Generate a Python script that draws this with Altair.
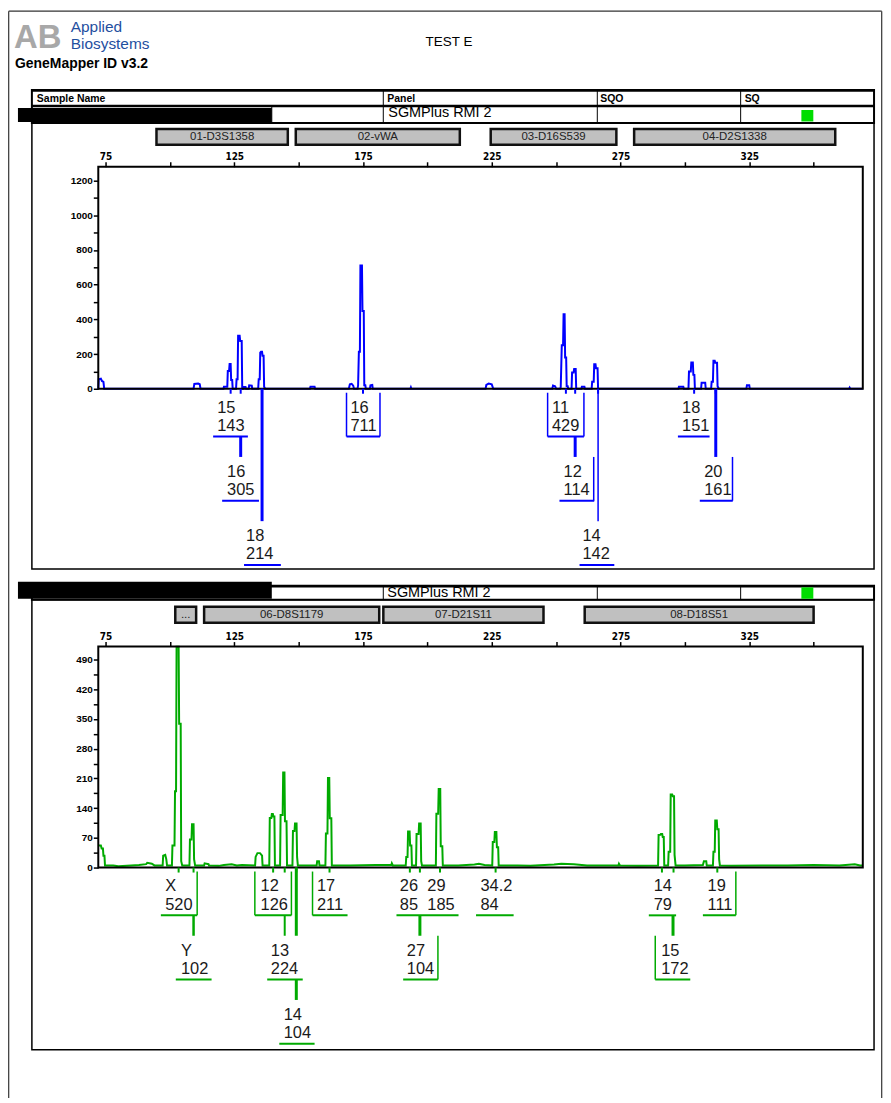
import altair as alt
import pandas as pd

# ---------------- values ----------------
TITLE = "TEST E"
SOFTWARE = "GeneMapper ID v3.2"
COMPANY = "Applied\nBiosystems"
PANEL_NAME = "SGMPlus RMI 2"
TABLE_HEAD = ["Sample Name", "Panel", "SQO", "SQ"]

X_TICKS = [75, 100, 125, 150, 175, 200, 225, 250, 275, 300, 325, 350]
TOP_Y_TICKS = [0, 100, 200, 300, 400, 500, 600, 700, 800, 900, 1000, 1100, 1200]
BOT_Y_TICKS = [0, 35, 70, 105, 140, 175, 210, 245, 280, 315, 350, 385, 420, 455, 490]

# blue dye trace (size in bp, height in RFU)
TOP_TRACE = [
    (72.2, 0), (72.4, 55), (73.2, 58), (73.6, 45), (74.2, 40), (74.5, 0),
    (109.2, 0), (109.5, 28), (111.0, 30), (111.6, 26), (111.9, 0),
    (120.8, 0), (121.0, 12), (122.3, 12), (122.5, 103), (123.0, 103), (123.2, 143),
    (123.6, 143), (123.8, 50), (124.2, 50), (124.4, 0),
    (125.7, 0), (125.9, 55), (126.3, 55), (126.5, 305), (127.1, 305), (127.3, 276),
    (127.9, 276), (128.1, 0), (128.6, 0), (128.8, 10), (129.4, 10), (129.6, 0),
    (130.6, 0), (130.8, 20), (131.8, 18), (132.0, 0),
    (134.3, 0), (134.5, 55), (134.9, 55), (135.1, 208), (135.4, 214), (135.8, 214),
    (136.0, 190), (136.4, 190), (136.6, 12), (137.0, 0),
    (154.4, 0), (154.6, 12), (156.2, 12), (156.4, 0),
    (169.5, 0), (169.9, 25), (170.6, 28), (171.2, 18), (171.5, 0),
    (172.9, 0), (173.1, 20), (173.4, 214), (173.8, 214), (174.0, 711), (174.6, 711),
    (174.8, 448), (175.3, 448), (175.5, 20), (175.9, 20), (176.1, 0),
    (177.7, 0), (177.9, 20), (178.6, 22), (178.8, 0),
    (193.4, 0), (193.6, 8), (193.8, 0),
    (222.6, 0), (222.9, 22), (223.8, 30), (225.0, 25), (225.6, 0),
    (248.5, 0), (248.8, 18), (249.6, 14), (250.0, 0),
    (251.6, 0), (251.8, 10), (252.2, 251), (252.7, 251), (252.9, 429), (253.3, 429),
    (253.5, 180), (253.9, 180), (254.1, 15), (254.5, 15), (254.7, 0),
    (256.0, 0), (256.2, 94), (256.8, 94), (257.0, 114), (257.6, 114), (257.8, 0),
    (259.8, 0), (260.0, 12), (261.0, 12), (261.2, 0),
    (263.8, 0), (264.0, 40), (264.6, 40), (264.8, 142), (265.3, 142), (265.5, 118),
    (266.1, 118), (266.3, 0),
    (297.5, 0), (297.7, 12), (299.4, 12), (299.6, 0),
    (301.4, 0), (301.6, 100), (302.3, 100), (302.5, 151), (303.1, 151), (303.3, 80),
    (303.7, 80), (303.9, 0),
    (306.3, 0), (306.5, 35), (307.9, 35), (308.1, 0),
    (310.2, 0), (310.4, 40), (310.9, 40), (311.1, 161), (311.6, 161), (311.8, 150),
    (312.5, 150), (312.7, 15), (313.2, 0),
    (323.9, 0), (324.1, 20), (325.0, 20), (325.2, 0),
    (363.8, 0), (364.0, 6), (364.2, 0), (369.1, 0),
]

# green dye trace
BOT_TRACE = [
    (72.2, 52), (73.2, 52), (73.5, 45), (74.0, 45), (74.2, 28), (74.6, 28), (74.8, 5),
    (78.0, 5), (80.0, 3), (85.0, 5), (88.0, 6), (90.8, 8), (91.2, 11), (93.0, 9), (94.0, 5),
    (97.2, 5), (97.4, 28), (98.2, 30), (98.6, 20), (98.9, 5),
    (100.8, 5), (101.0, 52), (101.8, 52), (102.0, 180), (102.4, 180), (102.6, 520),
    (103.4, 520), (103.6, 339), (104.2, 339), (104.4, 15), (104.8, 5),
    (107.6, 5), (107.8, 66), (108.4, 66), (108.6, 102), (109.2, 102), (109.4, 20), (109.8, 5),
    (113.3, 5), (113.5, 10), (115.0, 8), (115.2, 5), (119.0, 4), (121.0, 6), (124.0, 8),
    (126.0, 5), (128.0, 6),
    (133.1, 5), (133.3, 25), (134.0, 34), (135.0, 34), (135.8, 28), (136.0, 5),
    (138.6, 5), (138.8, 117), (139.4, 117), (139.6, 126), (140.0, 126), (140.2, 120),
    (140.6, 120), (140.8, 5),
    (142.8, 5), (143.0, 124), (143.8, 124), (144.0, 224), (144.5, 224), (144.7, 109),
    (145.3, 109), (145.5, 5),
    (147.6, 5), (147.8, 86), (148.4, 86), (148.6, 104), (149.2, 104), (149.4, 25), (149.7, 5),
    (152.0, 5), (157.0, 5), (157.2, 15), (157.9, 15), (158.1, 5),
    (160.4, 5), (160.6, 80), (161.2, 80), (161.4, 211), (161.9, 211), (162.1, 116),
    (162.7, 116), (162.9, 5),
    (170.0, 5), (180.0, 6), (186.0, 6), (186.2, 10), (186.6, 5),
    (191.6, 5), (191.8, 25), (192.3, 25), (192.5, 85), (193.1, 85), (193.3, 52),
    (193.8, 52), (194.0, 5),
    (195.6, 5), (195.8, 79), (196.6, 79), (196.8, 104), (197.4, 104), (197.6, 15), (197.9, 5),
    (203.3, 5), (203.5, 127), (204.2, 127), (204.4, 185), (205.0, 185), (205.2, 50),
    (205.8, 50), (206.0, 5),
    (212.0, 5), (218.3, 7), (220.0, 9), (222.2, 6),
    (225.2, 5), (225.4, 60), (226.0, 60), (226.2, 84), (226.8, 84), (227.0, 48),
    (227.5, 48), (227.7, 5),
    (235.0, 5), (240.0, 4), (249.2, 7), (252.0, 9), (256.9, 8), (262.0, 5),
    (274.2, 5), (274.4, 9), (274.8, 5), (282.0, 4),
    (289.6, 5), (289.8, 77), (290.5, 77), (290.7, 79), (291.2, 79), (291.4, 72),
    (291.8, 72), (292.0, 5),
    (293.5, 5), (293.7, 37), (294.3, 37), (294.5, 172), (295.1, 172), (295.3, 168),
    (295.8, 168), (296.0, 30), (296.4, 5),
    (300.0, 5), (307.0, 6), (307.4, 15), (308.3, 15), (308.5, 5),
    (310.9, 5), (311.1, 37), (311.6, 37), (311.8, 111), (312.4, 111), (312.6, 90),
    (313.1, 90), (313.3, 20), (313.6, 5),
    (318.0, 4), (330.0, 5), (340.0, 5), (350.0, 6), (360.0, 5), (366.0, 8), (368.0, 5),
    (369.1, 5),
]

TOP_ALLELES = ["15", "16", "18", "16", "11", "12", "14", "18", "20"]
TOP_HEIGHTS = ["143", "305", "214", "711", "429", "114", "142", "151", "161"]
TOP_PEAK_BP = [123.6, 127.5, 135.8, 175.0, 253.8, 257.4, 266.3, 303.6, 312.0]

BOT_ALLELES = ["X", "Y", "12", "13", "14", "17", "26", "29", "27", "34.2", "14", "15", "19"]
BOT_HEIGHTS = ["520", "102", "126", "224", "104", "211", "85", "185", "104", "84", "79", "172", "111"]
BOT_PEAK_BP = [103.4, 109.2, 140.1, 144.6, 149.1, 162.0, 193.2, 204.9, 197.1, 226.5, 291.1, 295.6, 312.6]

TOP_MARKERS = ["01-D3S1358", "02-vWA", "03-D16S539", "04-D2S1338"]
TOP_MARKER_START = [94.8, 148.9, 224.6, 280.3]
TOP_MARKER_END = [145.8, 212.6, 273.4, 358.4]
BOT_MARKERS = ["...", "06-D8S1179", "07-D21S11", "08-D18S51"]
BOT_MARKER_START = [102.1, 113.3, 182.9, 261.1]
BOT_MARKER_END = [110.2, 181.3, 245.1, 350.0]

# ---------------- layout (label placement, page geometry) ----------------
TOP_LABEL_ROW = [0, 1, 2, 0, 0, 1, 2, 0, 1]
TOP_LABEL_LEFT = [118.4, 122.2, 129.6, 170.1, 248.4, 252.9, 260.2, 298.9, 307.5]
TOP_UNDERLINES = [(0, 116.8, 130.3), (1, 120.3, 134.6), (2, 128.8, 143.1), (0, 168.6, 181.6),
                  (0, 246.7, 260.8), (1, 251.3, 264.8), (2, 259.1, 272.6), (0, 297.3, 309.6),
                  (1, 305.8, 318.6)]
TOP_LINKS = [
    (127.5, ("ul", 0), ("top", 1), 3), (135.8, ("axis", 0), ("top", 2), 3),
    (168.6, ("top", 0), ("ul", 0), 1.5), (181.6, ("top", 0), ("ul", 0), 1.5),
    (246.7, ("top", 0), ("ul", 0), 1.5), (260.8, ("top", 0), ("ul", 0), 1.5),
    (257.4, ("ul", 0), ("top", 1), 3), (264.6, ("top", 1), ("ul", 1), 1.5),
    (266.3, ("axis", 0), ("top", 2), 1.5), (312.0, ("axis", 0), ("top", 1), 3),
    (318.5, ("top", 1), ("ul", 1), 1.5),
]
BOT_LABEL_ROW = [0, 1, 0, 1, 2, 0, 0, 0, 1, 0, 0, 1, 0]
BOT_LABEL_LEFT = [98.2, 104.3, 135.2, 139.2, 144.2, 157.1, 189.3, 200.0, 192.0, 220.6, 287.9, 290.8, 308.8]
BOT_UNDERLINES = [(0, 96.5, 110.6), (1, 102.3, 116.2), (0, 133.0, 147.2), (1, 137.8, 151.6),
                  (2, 142.5, 156.2), (0, 155.4, 169.0), (0, 188.0, 212.1), (1, 190.6, 204.1),
                  (0, 218.9, 233.5), (0, 286.0, 296.6), (1, 288.5, 302.1), (0, 307.0, 319.8)]
BOT_LINKS = [
    (110.6, ("top", 0), ("ul", 0), 1.5), (109.2, ("ul", 0), ("top", 1), 2.5),
    (133.0, ("top", 0), ("ul", 0), 1.5), (147.2, ("top", 0), ("ul", 0), 1.5),
    (144.6, ("ul", 0), ("top", 1), 2), (149.1, ("axis", 0), ("top", 1), 3),
    (149.1, ("ul", 1), ("top", 2), 3), (155.4, ("top", 0), ("ul", 0), 1.5),
    (197.1, ("ul", 0), ("top", 1), 3), (204.1, ("top", 1), ("ul", 1), 1.5),
    (295.4, ("ul", 0), ("top", 1), 3), (288.5, ("top", 1), ("ul", 1), 1.5),
    (319.8, ("top", 0), ("ul", 0), 1.5),
]

OX = OY = 8
W, H = 879, 1090
BLUE = "#0000FF"
GREEN = "#00AA00"
SQ_GREEN = "#00DD00"
NARROW = '"Liberation Sans Narrow", "DejaVu Sans Condensed", "Liberation Sans", sans-serif'
ARIAL = '"Liberation Sans", Arial, sans-serif'
ROW_STEP = 64.5


def cx(v):
    return v - OX


def cy(v):
    return v - OY


BPX = alt.Scale(domain=[72.2, 369.1], range=[cx(98.7), cx(866.7)], nice=False, zero=False)
TOPY = alt.Scale(domain=[0, 1280], range=[cy(388), cy(165)], nice=False, zero=False)
BOTY = alt.Scale(domain=[0, 520.5], range=[cy(869), cy(647)], nice=False, zero=False)


def ypos(code, A):
    kind, r = code
    if kind == "axis":
        return A
    if kind == "top":
        return A + 4 + ROW_STEP * r
    if kind == "ul":
        return A + 48 + ROW_STEP * r
    return A


def PXX(field):
    return alt.X(field, scale=None, axis=None)


def PXY(field):
    return alt.Y(field, scale=None, axis=None)


layers = []

# ---- page border ----
border = pd.DataFrame([(8.7, 8.7, 8.7, 1103), (8.7, 885.7, 8.7, 8.7), (885.7, 885.7, 8.7, 1103)],
                      columns=["x", "x2", "y", "y2"])
border[["x", "x2"]] -= OX
border[["y", "y2"]] -= OY
layers.append(alt.Chart(border).mark_rule(color="#333", strokeWidth=1.2).encode(
    x=PXX("x:Q"), x2="x2:Q", y=PXY("y:Q"), y2="y2:Q"))

# ---- header tables and panel boxes ----
frames = pd.DataFrame([
    (32, 878, 88, 121, 2), (32, 878, 121, 569, 1.5),
    (32, 878, 586, 600, 2), (32, 878, 600, 1052, 1.5),
], columns=["x", "x2", "y", "y2", "sw"])
frames[["x", "x2"]] -= OX
frames[["y", "y2"]] -= OY
layers.append(alt.Chart(frames).mark_rect(fill="transparent", stroke="black").encode(
    x=PXX("x:Q"), x2="x2:Q", y=PXY("y:Q"), y2="y2:Q",
    strokeWidth=alt.StrokeWidth("sw:Q", scale=None)))

lines = pd.DataFrame([
    (32, 878, 104, 104, 2.5), (32, 878, 88.5, 88.5, 2.5),
    (385, 385, 88, 121, 1), (600, 600, 88, 121, 1), (744, 744, 88, 121, 1), (273, 273, 104, 121, 1),
    (32, 878, 586.5, 586.5, 2.5),
    (385, 385, 586, 600, 1), (600, 600, 586, 600, 1), (744, 744, 586, 600, 1),
], columns=["x", "x2", "y", "y2", "sw"])
lines[["x", "x2"]] -= OX
lines[["y", "y2"]] -= OY
layers.append(alt.Chart(lines).mark_rule(color="black").encode(
    x=PXX("x:Q"), x2="x2:Q", y=PXY("y:Q"), y2="y2:Q",
    strokeWidth=alt.StrokeWidth("sw:Q", scale=None)))

fills = pd.DataFrame([
    (18, 273, 106, 120, "black"), (805, 817, 108, 119.5, SQ_GREEN),
    (18, 273, 582, 599, "black"), (805, 817, 587.5, 599, SQ_GREEN),
], columns=["x", "x2", "y", "y2", "c"])
fills[["x", "x2"]] -= OX
fills[["y", "y2"]] -= OY
layers.append(alt.Chart(fills).mark_rect().encode(
    x=PXX("x:Q"), x2="x2:Q", y=PXY("y:Q"), y2="y2:Q",
    color=alt.Color("c:N", scale=None)))


def text_layer(items, **kw):
    df = pd.DataFrame(items, columns=["x", "y", "t"])
    df["x"] -= OX
    df["y"] -= OY
    return alt.Chart(df).mark_text(**kw).encode(x=PXX("x:Q"), y=PXY("y:Q"), text="t:N")


layers.append(text_layer([(14, 46, "AB")], font=ARIAL, fontSize=33, fontWeight="bold",
                         color="#A8A8A8", align="left", baseline="alphabetic"))
layers.append(text_layer([(71, 29.5, COMPANY)], font=ARIAL, fontSize=15.5, lineBreak="\n",
                         lineHeight=17.5, color="#1F4F9F", align="left", baseline="alphabetic"))
layers.append(text_layer([(15, 62, SOFTWARE)], font=ARIAL, fontSize=14, fontWeight="bold",
                         color="black", align="left", baseline="middle"))
layers.append(text_layer([(451, 40, TITLE)], font=ARIAL, fontSize=13.5, color="black",
                         align="center", baseline="middle"))
layers.append(text_layer([(37, 97, TABLE_HEAD[0]), (389, 97, TABLE_HEAD[1]),
                          (603, 97, TABLE_HEAD[2]), (748, 97, TABLE_HEAD[3])],
                         font=ARIAL, fontSize=10.5, fontWeight="bold", color="black",
                         align="left", baseline="middle"))
layers.append(text_layer([(390, 111.5, PANEL_NAME), (389, 593.5, PANEL_NAME)],
                         font=ARIAL, fontSize=14.5, color="black", align="left", baseline="middle"))


def panel_layers(trace, yscale, yticks, ystep, color, A, frame_top, box_y, alleles, heights,
                 peaks, rows, lefts, underlines, links, markers, mstart, mend):
    out = []
    # locus bins
    mk = pd.DataFrame({"name": markers, "s": mstart, "e": mend})
    out.append(alt.Chart(mk).mark_rect(fill="#C0C0C0", stroke="#111", strokeWidth=2.5).encode(
        x=alt.X("s:Q", scale=BPX, axis=None), x2="e:Q",
        y=alt.value(cy(box_y)), y2=alt.value(cy(box_y + 16))))
    out.append(alt.Chart(mk).transform_calculate(m="(datum.s + datum.e) / 2").mark_text(
        font=ARIAL, fontSize=11.5, color="#222", baseline="middle").encode(
        x=alt.X("m:Q", scale=BPX, axis=None), y=alt.value(cy(box_y + 8.5)), text="name:N"))
    # trace with axes
    df = pd.DataFrame(trace, columns=["bp", "rfu"])
    df["i"] = range(len(df))
    xaxis = alt.Axis(orient="top", offset=-cy(frame_top), values=X_TICKS,
                     labelExpr="datum.value % 50 == 25 ? datum.label : ''",
                     domain=False, grid=False, tickSize=5, tickWidth=1.5, tickColor="black",
                     labelFont=NARROW, labelFontSize=10, labelFontWeight="bold", labelColor="black",
                     labelPadding=0, labelFlush=False, labelOverlap=False, title="")
    yaxis = alt.Axis(orient="left", offset=-cx(98.7), values=yticks,
                     labelExpr="datum.value %% %d == 0 ? datum.label : ''" % ystep, format="d",
                     domain=False, grid=False, tickSize=5, tickWidth=1.5, tickColor="black",
                     labelFont=ARIAL, labelFontSize=10, labelFontWeight="bold", labelColor="black",
                     labelPadding=1, labelFlush=False, labelOverlap=False, title="")
    out.append(alt.Chart(df).mark_line(color=color, strokeWidth=2, strokeJoin="miter").encode(
        x=alt.X("bp:Q", scale=BPX, axis=xaxis),
        y=alt.Y("rfu:Q", scale=yscale, axis=yaxis),
        order=alt.Order("i:Q")))
    # plot frame
    fr = pd.DataFrame({"x0": [BPX.domain[0]], "x1": [BPX.domain[1]],
                       "y0": [yscale.domain[0]], "y1": [yscale.domain[1]]})
    out.append(alt.Chart(fr).mark_rect(fill="transparent", stroke="black", strokeWidth=2).encode(
        x=alt.X("x0:Q", scale=BPX, axis=None), x2="x1:Q",
        y=alt.Y("y0:Q", scale=yscale, axis=None), y2="y1:Q"))
    # peak ticks
    pk = pd.DataFrame({"bp": peaks, "y": cy(A), "y2": cy(A + 5)})
    out.append(alt.Chart(pk).mark_rule(color=color, strokeWidth=2).encode(
        x=alt.X("bp:Q", scale=BPX, axis=None), y=PXY("y:Q"), y2="y2:Q"))
    # connectors
    ln = pd.DataFrame([(b, cy(ypos(f, A)), cy(ypos(t, A)), w) for b, f, t, w in links],
                      columns=["bp", "y", "y2", "w"])
    out.append(alt.Chart(ln).mark_rule(color=color).encode(
        x=alt.X("bp:Q", scale=BPX, axis=None), y=PXY("y:Q"), y2="y2:Q",
        strokeWidth=alt.StrokeWidth("w:Q", scale=None)))
    # underlines
    ul = pd.DataFrame([(s, e, cy(A + 48 + ROW_STEP * r)) for r, s, e in underlines],
                      columns=["s", "e", "y"])
    out.append(alt.Chart(ul).mark_rule(color=color, strokeWidth=2).encode(
        x=alt.X("s:Q", scale=BPX, axis=None), x2="e:Q", y=PXY("y:Q")))
    # allele / height labels
    tx = []
    for a, h, r, lft in zip(alleles, heights, rows, lefts):
        tx.append((lft, cy(A + 19 + ROW_STEP * r), a))
        tx.append((lft, cy(A + 37.5 + ROW_STEP * r), h))
    tdf = pd.DataFrame(tx, columns=["bp", "y", "t"])
    out.append(alt.Chart(tdf).mark_text(font=ARIAL, fontSize=16.5, color="#1a1a1a",
                                        align="left", baseline="middle").encode(
        x=alt.X("bp:Q", scale=BPX, axis=None), y=PXY("y:Q"), text="t:N"))
    return out


layers += panel_layers(TOP_TRACE, TOPY, TOP_Y_TICKS, 200, BLUE, 388, 165, 127,
                       TOP_ALLELES, TOP_HEIGHTS, TOP_PEAK_BP, TOP_LABEL_ROW, TOP_LABEL_LEFT,
                       TOP_UNDERLINES, TOP_LINKS, TOP_MARKERS, TOP_MARKER_START, TOP_MARKER_END)
layers += panel_layers(BOT_TRACE, BOTY, BOT_Y_TICKS, 70, GREEN, 869, 647, 607,
                       BOT_ALLELES, BOT_HEIGHTS, BOT_PEAK_BP, BOT_LABEL_ROW, BOT_LABEL_LEFT,
                       BOT_UNDERLINES, BOT_LINKS, BOT_MARKERS, BOT_MARKER_START, BOT_MARKER_END)

chart = alt.layer(*layers).resolve_scale(x="independent", y="independent").properties(
    width=W, height=H, padding=0, autosize=alt.AutoSizeParams(type="none")
).configure_view(strokeWidth=0)

chart.save("out.html", embed_options={"renderer": "svg", "actions": False})
